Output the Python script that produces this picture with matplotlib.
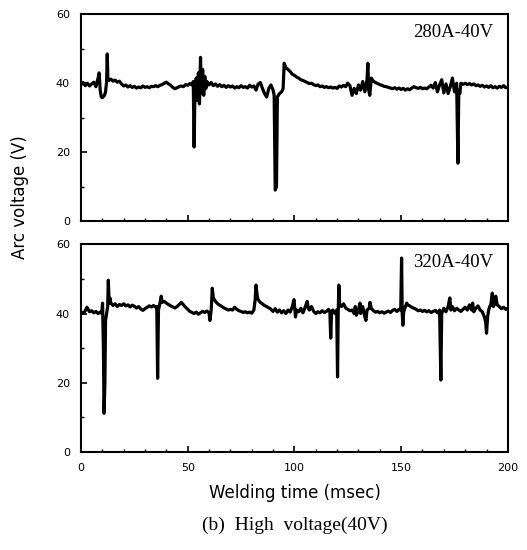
import matplotlib.pyplot as plt
from matplotlib.ticker import MultipleLocator

# 280A-40V trace (time in msec, arc voltage in V)
t_280 = [0, 1, 2, 3, 4, 5, 6, 7, 8, 8.5, 9, 9.5, 10, 11, 11.5, 12, 12.3, 12.6, 13, 14,
         15, 16, 17, 18, 19, 20, 21, 22, 23, 24, 25, 26, 27, 28, 29, 30, 31, 32, 33, 34,
         35, 36, 37, 38, 39, 40, 41, 42, 43, 44, 45, 46, 47, 48, 49, 50, 51, 52, 52.6, 53,
         53.4, 54, 54.5, 55, 55.5, 56, 56.4, 57, 57.5, 58, 58.5, 59, 60, 61, 62, 63, 64, 65, 66, 67,
         68, 69, 70, 71, 72, 73, 74, 75, 76, 77, 78, 79, 80, 81, 82, 83, 84, 85, 86, 87,
         88, 89, 90, 90.5, 91, 91.6, 92, 93, 94, 94.7, 95.2, 96, 97, 98, 99, 100, 101, 102, 103, 104,
         105, 106, 107, 108, 109, 110, 111, 112, 113, 114, 115, 116, 117, 118, 119, 120, 121, 122, 123, 124,
         125, 126, 127, 128, 129, 130, 131, 132, 133, 134, 134.4, 134.8, 135.3, 136, 137, 138, 139, 140, 141, 142,
         143, 144, 145, 146, 147, 148, 149, 150, 151, 152, 153, 154, 155, 156, 157, 158, 159, 160, 161, 162,
         163, 164, 165, 166, 167, 168, 169, 170, 171, 172, 173, 174, 175, 176, 176.6, 177, 177.5, 178, 179, 180,
         181, 182, 183, 184, 185, 186, 187, 188, 189, 190, 191, 192, 193, 194, 195, 196, 197, 198, 199, 200]
v_280 = [39.5, 40.2, 39.3, 40.0, 39.2, 39.8, 40.3, 39.0, 41.5, 43.0, 38.0, 36.0, 35.8, 36.5, 37.5, 40.5, 48.5, 41.0, 40.8, 41.2,
         40.6, 40.9, 40.3, 40.6, 39.8, 39.2, 39.5, 38.9, 39.3, 38.8, 39.1, 38.6, 38.9, 38.7, 39.2, 38.8, 39.0, 38.7, 39.1, 39.0,
         39.3, 39.0, 39.4, 39.6, 40.0, 40.3, 39.8, 39.4, 38.8, 38.4, 38.7, 39.0, 39.2, 39.0, 39.6, 39.4, 39.9, 39.5, 40.5, 21.5,
         38.5, 41.5, 35.0, 43.0, 34.0, 47.5, 37.0, 44.0, 36.5, 42.0, 38.5, 40.5, 39.5, 40.2, 39.3, 39.8, 39.1, 39.6, 39.0, 39.4,
         38.8, 39.3, 38.9, 39.2, 38.6, 39.0, 38.7, 39.3, 38.8, 39.0, 38.6, 39.4, 38.9, 39.2, 38.0, 39.8, 40.2, 38.5, 37.0, 36.0,
         38.5, 39.5, 38.0, 36.5, 9.0, 10.0, 36.0, 37.0, 37.5, 38.5, 45.8, 44.5, 44.0, 43.4, 42.6, 42.3, 41.8, 41.5, 41.0, 40.8,
         40.5, 40.2, 39.9, 40.0, 39.6, 39.3, 39.5, 39.0, 39.2, 38.8, 39.0, 38.7, 38.9, 38.6, 38.8, 38.5, 39.2, 38.9, 39.4, 39.0,
         40.0, 39.3, 36.5, 38.5, 37.0, 39.5, 38.0, 40.5, 37.5, 41.0, 45.8, 38.0, 36.5, 41.5, 40.6, 40.2, 39.9, 39.6, 39.4, 39.1,
         39.0, 38.8, 38.6, 38.4, 38.7, 38.3, 38.6, 38.2, 38.5, 38.0, 38.4, 38.1, 38.6, 39.0, 38.7, 38.5, 38.8, 38.4, 38.6, 38.4,
         38.9, 39.4, 38.6, 40.2, 37.5, 39.5, 41.0, 37.2, 39.8, 37.0, 39.0, 41.5, 37.5, 40.0, 16.8, 38.0, 37.0, 40.0, 39.7, 40.0,
         39.6, 39.9, 39.5, 39.8, 39.3, 39.5, 39.1, 39.4, 38.9, 39.2, 38.8, 39.3, 38.7, 39.0, 38.6, 39.1, 38.8, 39.3, 38.7, 38.9]

# 320A-40V trace
t_320 = [0, 1, 2, 2.8, 3.5, 4, 5, 6, 7, 8, 9, 9.7, 10.1, 10.5, 10.8, 11.2, 11.5, 12, 12.5, 12.8,
         13.2, 13.6, 14, 15, 16, 17, 18, 19, 20, 21, 22, 23, 24, 25, 26, 27, 28, 29, 30, 31,
         32, 33, 34, 35, 35.5, 35.9, 36.3, 37, 37.6, 38, 39, 40, 41, 42, 43, 44, 45, 46, 47, 48,
         49, 50, 51, 52, 53, 54, 55, 56, 57, 58, 59, 60, 60.4, 61, 61.5, 62, 63, 64, 65, 66,
         67, 68, 69, 70, 71, 72, 73, 74, 75, 76, 77, 78, 79, 80, 81, 81.6, 82, 82.6, 83, 84,
         85, 86, 87, 88, 88.5, 89, 90, 91, 92, 93, 94, 95, 96, 97, 98, 99, 99.8, 100.5, 101, 102,
         103, 104, 105, 106, 106.5, 107, 108, 109, 110, 111, 112, 113, 114, 115, 116, 116.6, 117, 117.4, 118, 119,
         119.8, 120.2, 120.5, 120.8, 121.2, 122, 123, 124, 125, 126, 127, 128, 128.5, 129, 130, 130.7, 131, 132, 133, 133.5,
         134, 135, 135.4, 136, 137, 138, 139, 140, 141, 142, 143, 144, 145, 146, 147, 148, 149, 149.8, 150.2, 150.5,
         150.8, 151.2, 152, 152.6, 153, 154, 155, 156, 157, 158, 159, 160, 161, 162, 163, 164, 165, 166, 167, 168,
         168.6, 169, 170, 171, 172, 172.8, 173.3, 174, 175, 176, 177, 178, 179, 180, 181, 182, 183, 183.5, 184, 185,
         186, 187, 188, 189, 189.6, 190, 190.5, 191, 191.5, 192, 192.7, 193.2, 194, 194.3, 195, 196, 197, 198, 199, 200]
v_320 = [40.5, 40.0, 40.8, 41.8, 41.0, 40.5, 40.8, 40.2, 40.6, 40.0, 40.4, 40.0, 43.0, 30.0, 11.2, 20.0, 38.0, 40.0, 42.0, 49.6,
         43.0, 44.4, 43.0, 42.3, 42.8, 42.0, 42.6, 42.3, 42.8, 42.2, 42.5, 41.9, 42.4, 42.1, 41.6, 42.0, 41.3, 40.9, 41.4, 41.8,
         42.2, 41.9, 42.3, 41.8, 42.0, 21.3, 41.0, 43.0, 45.0, 43.2, 43.5, 43.0, 42.6, 42.2, 41.9, 41.6, 42.0, 42.6, 43.2, 42.5,
         41.8, 41.2, 40.6, 40.3, 40.0, 40.4, 39.8, 40.2, 40.6, 40.3, 40.7, 40.2, 38.0, 41.0, 47.3, 44.5, 43.5, 42.8, 42.4, 42.0,
         41.6, 41.3, 41.0, 41.2, 41.0, 41.8, 41.2, 40.8, 40.6, 40.3, 40.5, 40.2, 40.4, 40.1, 41.0, 44.0, 48.2, 45.0, 44.0, 43.2,
         42.8, 42.3, 42.0, 41.6, 41.5, 41.2, 40.6, 41.4, 40.4, 41.0, 40.2, 40.8, 40.0, 41.0, 40.4, 42.0, 44.0, 39.0, 41.0, 40.5,
         41.5, 40.2, 41.8, 43.5, 41.5, 41.0, 42.0, 40.6, 40.0, 40.5, 40.2, 40.8, 40.3, 40.6, 41.2, 40.5, 32.9, 40.5, 41.0, 40.0,
         41.0, 21.7, 40.0, 48.2, 42.5, 42.0, 42.8, 41.6, 41.2, 40.8, 41.0, 40.0, 42.0, 39.5, 41.0, 43.0, 40.0, 42.0, 39.0, 38.0,
         41.0, 41.5, 43.2, 41.5, 40.8, 40.4, 40.6, 40.2, 40.5, 40.1, 40.4, 40.7, 40.3, 40.9, 41.2, 40.6, 41.2, 41.0, 56.0, 40.0,
         36.6, 40.5, 42.0, 43.0, 42.5, 42.2, 41.8, 41.5, 41.2, 40.8, 41.0, 40.6, 40.9, 40.5, 40.8, 40.3, 40.6, 40.9, 40.2, 41.0,
         20.8, 40.0, 41.5, 40.5, 42.0, 44.5, 41.0, 42.0, 40.8, 41.5, 41.0, 40.6, 41.2, 41.8, 41.0, 42.5, 41.0, 43.0, 40.5, 41.5,
         42.2, 41.0, 40.5, 39.0, 37.5, 34.3, 39.0, 41.0, 42.0, 42.5, 45.9, 42.0, 43.0, 45.0, 42.5, 42.0, 41.4, 41.8, 41.2, 41.5]

fig = plt.figure(figsize=(5.27, 5.5), dpi=100)
ax1 = fig.add_axes([0.1537, 0.598, 0.810, 0.376])
ax2 = fig.add_axes([0.1537, 0.178, 0.810, 0.378])

for ax, t, v, label in [(ax1, t_280, v_280, '280A-40V'), (ax2, t_320, v_320, '320A-40V')]:
    ax.plot(t, v, color='black', linewidth=2.3)
    ax.set_xlim(0, 200)
    ax.set_ylim(0, 60)
    ax.xaxis.set_major_locator(MultipleLocator(50))
    ax.xaxis.set_minor_locator(MultipleLocator(10))
    ax.yaxis.set_major_locator(MultipleLocator(20))
    ax.yaxis.set_minor_locator(MultipleLocator(10))
    ax.tick_params(which='both', direction='in', top=False, right=False, labelsize=8, pad=8)
    ax.tick_params(which='major', length=4, width=1.2)
    ax.tick_params(which='minor', length=2.5, width=1)
    for s in ax.spines.values():
        s.set_linewidth(1.5)
    ax.text(0.965, 0.955, label, transform=ax.transAxes, ha='right', va='top',
            fontsize=13.5, family='Liberation Serif')

ax1.set_xticklabels([])

fig.text(0.038, 0.642, 'Arc voltage (V)', rotation=90, ha='center', va='center', fontsize=12)
fig.text(0.559, 0.104, 'Welding time (msec)', ha='center', va='center', fontsize=12)
fig.text(0.559, 0.045, '(b)  High  voltage(40V)', ha='center', va='center', fontsize=14,
         family='Liberation Serif')

fig.savefig('out.png', dpi=100)
